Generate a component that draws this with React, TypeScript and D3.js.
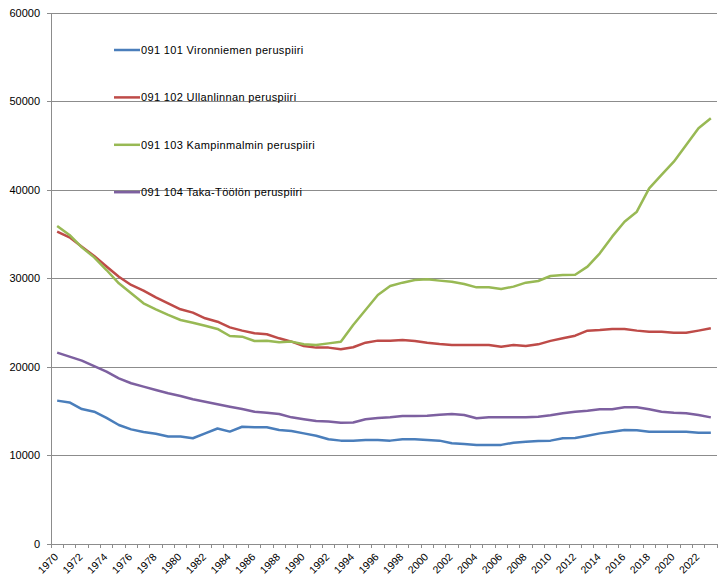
import React, { useEffect, useRef } from "react";
import * as d3 from "d3";

const YEARS = d3.range(1970, 2024);

const VIRONNIEMI = [
  16200, 16000, 15250, 14950, 14250, 13450, 12950, 12650, 12450, 12150,
  12150, 11950, 12500, 13050, 12700, 13250, 13200, 13200, 12880, 12770,
  12500, 12240, 11830, 11680, 11680, 11750, 11750, 11680, 11830, 11830,
  11750, 11680, 11380, 11300, 11200, 11200, 11200, 11450, 11560, 11640,
  11680, 11950, 11980, 12240, 12500, 12690, 12880, 12840, 12690, 12690,
  12690, 12690, 12580, 12580,
];

const ULLANLINNA = [
  35300, 34650, 33600, 32550, 31350, 30200, 29270, 28630, 27870, 27190,
  26520, 26140, 25500, 25120, 24480, 24110, 23810, 23700, 23240, 22860,
  22370, 22190, 22190, 22000, 22230, 22750, 22980, 22980, 23050, 22940,
  22750, 22600, 22490, 22490, 22490, 22490, 22300, 22490, 22370, 22560,
  22950, 23240, 23540, 24110, 24180, 24300, 24300, 24110, 23990, 23990,
  23880, 23880, 24110, 24370,
];

const KAMPINMALMI = [
  35930, 34920, 33520, 32390, 30960, 29460, 28330, 27200, 26520, 25880,
  25310, 25010, 24670, 24300, 23500, 23430, 22940, 22970, 22790, 22870,
  22560, 22480, 22670, 22860, 24750, 26440, 28140, 29150, 29530, 29830,
  29910, 29760, 29640, 29380, 29000, 29000, 28820, 29080, 29530, 29720,
  30280, 30390, 30430, 31340, 32850, 34730, 36420, 37550, 40190, 41700,
  43200, 45090, 46970, 48100,
];

const TAKA_TOOLO = [
  21620, 21170, 20720, 20110, 19470, 18720, 18160, 17780, 17400, 17030,
  16720, 16350, 16080, 15790, 15520, 15260, 14950, 14840, 14690, 14310,
  14090, 13900, 13830, 13710, 13720, 14090, 14240, 14310, 14460, 14460,
  14500, 14610, 14690, 14580, 14200, 14310, 14310, 14310, 14310, 14390,
  14540, 14770, 14950, 15060, 15220, 15220, 15440, 15440, 15220, 14950,
  14840, 14770, 14580, 14310,
];

const SERIES_NAMES = [
  "091 101 Vironniemen peruspiiri",
  "091 102 Ullanlinnan peruspiiri",
  "091 103 Kampinmalmin peruspiiri",
  "091 104 Taka-Töölön peruspiiri",
];
const SERIES_VALUES = [VIRONNIEMI, ULLANLINNA, KAMPINMALMI, TAKA_TOOLO];
const COLORS = ["#4a7ebb", "#be4b48", "#98b954", "#7d60a0"];
const Y_TICKS = [0, 10000, 20000, 30000, 40000, 50000, 60000];

const App = () => {
  const ref = useRef<HTMLDivElement>(null);

  useEffect(() => {
    document.body.style.margin = "0";
    const WIDTH = 718;
    const HEIGHT = 581;
    const LEFT = 51;
    const RIGHT = 717;
    const TOP = 13;
    const BOTTOM = 544;
    const FONT = "'Liberation Sans', Arial, sans-serif";

    const root = d3.select(ref.current);
    root.selectAll("*").remove();
    const svg = root
      .append("svg")
      .attr("width", WIDTH)
      .attr("height", HEIGHT)
      .style("display", "block")
      .style("background", "#fff");

    const x = d3
      .scaleBand<number>()
      .domain(YEARS)
      .range([LEFT, RIGHT])
      .paddingInner(0)
      .paddingOuter(0);
    const cx = (yr: number) => (x(yr) as number) + x.bandwidth() / 2;
    const y = d3.scaleLinear().domain([0, 60000]).range([BOTTOM, TOP]);

    /* gridlines + y labels */
    Y_TICKS.forEach((t) => {
      if (t > 0) {
        svg
          .append("line")
          .attr("x1", LEFT)
          .attr("x2", RIGHT)
          .attr("y1", y(t))
          .attr("y2", y(t))
          .attr("stroke", "#8c8c8c")
          .attr("stroke-width", 1)
          .attr("shape-rendering", "crispEdges");
      }
      svg
        .append("line")
        .attr("x1", LEFT - 4)
        .attr("x2", LEFT)
        .attr("y1", y(t))
        .attr("y2", y(t))
        .attr("stroke", "#8c8c8c")
        .attr("shape-rendering", "crispEdges");
      svg
        .append("text")
        .attr("x", 40)
        .attr("y", y(t))
        .attr("dy", "0.35em")
        .attr("text-anchor", "end")
        .attr("font-family", FONT)
        .attr("font-size", 11)
        .attr("fill", "#000")
        .text(String(t));
    });

    /* axes */
    svg
      .append("line")
      .attr("x1", LEFT)
      .attr("x2", LEFT)
      .attr("y1", TOP)
      .attr("y2", BOTTOM)
      .attr("stroke", "#8c8c8c")
      .attr("shape-rendering", "crispEdges");
    svg
      .append("line")
      .attr("x1", LEFT)
      .attr("x2", RIGHT)
      .attr("y1", BOTTOM)
      .attr("y2", BOTTOM)
      .attr("stroke", "#8c8c8c")
      .attr("shape-rendering", "crispEdges");

    /* x ticks between categories */
    YEARS.concat([YEARS[YEARS.length - 1] + 1]).forEach((yr, i) => {
      const px = LEFT + i * x.bandwidth();
      svg
        .append("line")
        .attr("x1", px)
        .attr("x2", px)
        .attr("y1", BOTTOM)
        .attr("y2", BOTTOM + 4)
        .attr("stroke", "#8c8c8c")
        .attr("shape-rendering", "crispEdges");
    });

    /* x labels every 2 years */
    YEARS.filter((yr) => yr % 2 === 0).forEach((yr) => {
      svg
        .append("text")
        .attr(
          "transform",
          "translate(" + (cx(yr) - 1) + "," + (BOTTOM + 11) + ") rotate(-45)"
        )
        .attr("text-anchor", "end")
        .attr("dy", "0.35em")
        .attr("font-family", FONT)
        .attr("font-size", 10.5)
        .attr("fill", "#000")
        .text(String(yr));
    });

    /* lines */
    const line = d3
      .line<number>()
      .x((d, i) => cx(YEARS[i]))
      .y((d) => y(d));

    SERIES_VALUES.forEach((vals, s) => {
      svg
        .append("path")
        .datum(vals)
        .attr("fill", "none")
        .attr("stroke", COLORS[s])
        .attr("stroke-width", 2.5)
        .attr("stroke-linejoin", "round")
        .attr("d", line);
    });

    /* legend */
    SERIES_NAMES.forEach((name, s) => {
      const ly = 50 + s * 47.4;
      svg
        .append("line")
        .attr("x1", 114)
        .attr("x2", 140)
        .attr("y1", ly)
        .attr("y2", ly)
        .attr("stroke", COLORS[s])
        .attr("stroke-width", 2.5);
      svg
        .append("text")
        .attr("x", 141)
        .attr("y", ly)
        .attr("dy", "0.35em")
        .attr("font-family", FONT)
        .attr("font-size", 11)
        .attr("letter-spacing", 0.35)
        .attr("fill", "#000")
        .text(name);
    });
  }, []);

  return <div ref={ref} />;
};

export default App;
